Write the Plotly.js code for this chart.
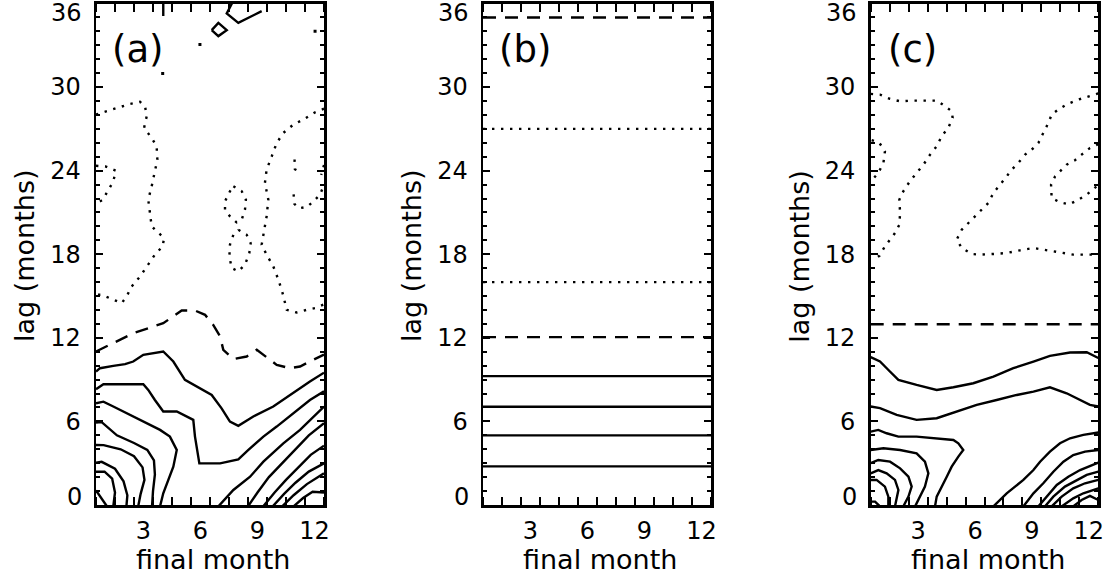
<!DOCTYPE html>
<html>
<head>
<meta charset="utf-8">
<script src="https://cdn.plot.ly/plotly-3.0.1.min.js"></script>
<style>html,body{margin:0;padding:0;background:#fff}#chart{width:1112px;height:577px}</style>
</head>
<body>
<div id="chart"></div>
<script>
// ---------------- DATA ----------------
const xTickVals = [3, 6, 9, 12];
const yTickVals = [6, 12, 18, 24, 30];
const panelLabels = ['(a)', '(b)', '(c)'];
const xTitle = 'final month';
const yTitle = 'lag (months)';

// panel (a) : solid contours
const a_solid_1 = [[0.50,9.58],[0.71,9.82],[1.41,9.99],[2.03,10.11],[2.46,10.30],[2.99,10.78],[4.04,11.02],[4.57,10.30],[5.18,8.98],[5.97,8.38],[6.59,7.90],[7.11,6.94],[7.55,5.99],[7.99,5.68],[8.78,6.35],[9.83,7.07],[10.71,7.90],[11.76,8.86],[12.50,9.50]];
const a_solid_2 = [[0.50,8.31],[0.89,8.67],[2.99,8.67],[3.25,8.26],[3.60,7.54],[4.04,6.71],[4.75,6.71],[5.62,6.11],[5.71,4.91],[5.94,2.99],[7.03,2.99],[7.99,3.28],[8.52,3.95],[9.31,4.91],[10.01,5.63],[10.89,6.59],[11.76,7.54],[12.50,8.16]];
const a_solid_3 = [[0.50,7.30],[0.89,7.42],[1.41,7.07],[2.46,6.35],[3.17,5.87],[3.87,5.39],[4.39,4.91],[4.75,3.95],[4.57,2.75],[4.31,1.80],[4.04,0.84],[3.87,-0.1]];
const a_solid_4 = [[0.50,5.92],[0.80,5.95],[1.60,5.00],[2.50,4.45],[3.20,3.95],[3.55,3.20],[3.60,2.20],[3.50,1.00],[3.45,-0.1]];
const a_solid_5 = [[0.50,4.31],[0.90,4.30],[1.80,4.00],[2.50,3.50],[2.95,2.70],[3.05,1.80],[2.85,0.80],[2.72,-0.1]];
const a_solid_6 = [[0.50,3.04],[0.80,3.10],[1.50,2.60],[1.95,1.70],[2.15,0.70],[2.10,-0.1]];
const a_solid_7 = [[0.50,2.39],[0.95,2.39],[1.35,1.90],[1.50,0.90],[1.41,-0.1]];
const a_solid_8 = [[0.50,1.05],[1.08,-0.1]];
const a_solid_r1 = [[6.94,-0.1],[7.73,1.08],[8.61,2.03],[9.31,3.11],[10.36,4.43],[11.24,5.39],[12.50,7.06]];
const a_solid_r2 = [[8.50,-0.1],[9.00,0.90],[9.60,2.00],[10.30,3.00],[11.00,4.00],[11.70,5.00],[12.50,5.87]];
const a_solid_r3 = [[9.30,-0.1],[9.90,0.90],[10.50,1.80],[11.20,2.80],[11.80,3.60],[12.50,4.26]];
const a_solid_r4 = [[9.80,-0.1],[10.40,0.80],[11.00,1.60],[11.70,2.40],[12.50,2.99]];
const a_solid_r5 = [[10.30,-0.1],[10.90,0.70],[11.60,1.50],[12.50,2.27]];
const a_solid_r6 = [[10.90,-0.1],[11.40,0.50],[11.90,0.95],[12.50,0.90]];
const a_solid_top1 = [[6.59,34.09],[6.94,34.61],[7.38,34.09],[6.94,33.66],[6.59,34.09]];
const a_solid_top2 = [[7.69,36.1],[7.38,35.28],[7.99,34.61],[8.61,35.04],[9.22,35.45]];
const a_solid_top3 = [[4.04,36.1],[4.04,35.1]];
// panel (a) : dashed contour
const a_dashed_1 = [[0.50,11.02],[1.24,11.50],[2.46,12.33],[4.04,13.05],[5.01,13.96],[5.71,13.96],[6.24,13.65],[6.67,12.93],[7.03,12.10],[7.20,11.14],[7.73,10.47],[8.43,10.66],[8.96,11.14],[9.48,10.61],[10.01,10.06],[10.71,9.82],[11.24,9.94],[11.85,10.37],[12.50,10.80]];
// panel (a) : dotted contours
const a_dotted_1 = [[0.50,28.03],[1.41,28.39],[2.29,28.79],[2.82,28.94],[3.08,28.63],[3.17,27.91],[3.03,27.07],[3.43,26.35],[3.69,25.75],[3.73,24.79],[3.60,23.84],[3.43,22.88],[3.25,21.92],[3.34,20.96],[3.43,20.00],[4.08,19.16],[4.01,18.57],[3.60,17.97],[3.17,17.13],[2.82,16.41],[2.38,15.69],[2.11,14.97],[1.85,14.49],[1.24,14.85],[0.80,15.09],[0.50,15.09]];
const a_dotted_2 = [[0.50,24.35],[1.00,24.30],[1.55,24.00],[1.40,23.20],[1.10,22.50],[0.85,21.90],[0.60,21.70]];
const a_dotted_3 = [[12.50,28.45],[12.03,28.19],[11.41,27.67],[10.89,27.31],[10.36,26.71],[10.01,25.99],[9.75,25.03],[9.48,24.07],[9.39,23.12],[9.57,21.92],[9.48,20.72],[9.31,19.52],[9.22,18.69],[9.48,17.97],[9.83,17.13],[10.10,16.17],[10.32,15.21],[10.54,14.01],[11.06,13.82],[11.59,14.01],[12.03,14.13],[12.50,14.40]];
const a_dotted_4 = [[7.73,22.88],[8.17,22.52],[8.39,21.92],[8.34,21.20],[8.17,20.48],[7.90,20.29],[7.55,20.72],[7.29,21.20],[7.29,21.80],[7.55,22.52],[7.73,22.88]];
const a_dotted_5 = [[7.99,19.76],[8.43,19.40],[8.64,18.80],[8.57,18.09],[8.34,17.25],[7.99,16.77],[7.64,17.01],[7.52,17.85],[7.55,18.69],[7.73,19.40],[7.99,19.76]];
const a_dotted_6 = [[10.95,24.80],[10.97,24.10],[11.20,23.95]];
const a_dotted_7 = [[10.90,22.30],[10.95,21.60],[11.20,21.30],[11.60,21.40],[11.95,21.80],[12.30,22.30],[12.50,23.00]];
const a_dotted_8 = [[12.50,24.40],[12.35,23.70]];
const a_dots_x = [5.97, 4.01, 12.03];
const a_dots_y = [33.06, 30.97, 34.00];

// panel (b) : horizontal contour levels
const b_xExtent = [0.5, 12.5];
const b_solidLevels = [2.77, 5.00, 7.05, 9.25];
const b_dashedLevels = [12.05, 35.0];
const b_dottedLevels = [16.0, 27.0];

// panel (c) : solid contours
const c_solid_1 = [[0.50,10.61],[0.99,10.30],[1.50,9.60],[1.96,8.98],[2.92,8.62],[3.98,8.26],[4.86,8.45],[5.91,8.74],[6.97,9.22],[8.02,9.82],[9.08,10.30],[9.95,10.71],[11.01,10.95],[11.89,10.97],[12.50,10.55]];
const c_solid_2 = [[0.50,7.07],[0.99,6.95],[1.87,6.47],[2.92,6.11],[3.98,6.23],[5.03,6.71],[6.09,7.19],[7.14,7.54],[8.20,7.90],[9.08,8.14],[9.95,8.45],[10.83,8.02],[11.53,7.54],[12.06,7.19],[12.50,7.07]];
const c_solid_3 = [[0.50,5.27],[0.90,5.39],[1.34,5.15],[1.96,4.91],[2.92,4.91],[3.98,4.79],[4.86,4.67],[5.12,4.43],[5.38,3.95],[5.12,3.47],[4.77,2.75],[4.51,2.03],[4.24,1.32],[3.98,0.60],[3.89,-0.1]];
const c_solid_4 = [[0.50,3.95],[1.17,4.07],[2.05,3.95],[2.92,3.71],[3.36,3.11],[3.54,2.27],[3.36,1.32],[3.10,0.60],[2.84,-0.1]];
const c_solid_5 = [[0.50,3.00],[0.90,3.23],[1.52,3.11],[2.05,2.63],[2.49,2.03],[2.66,1.32],[2.49,0.60],[2.22,-0.1]];
const c_solid_6 = [[0.50,2.27],[0.90,2.51],[1.34,2.27],[1.78,1.80],[1.96,1.08],[1.87,0.36],[1.78,-0.1]];
const c_solid_7 = [[0.50,1.80],[0.81,1.80],[1.25,1.32],[1.43,0.60],[1.43,-0.1]];
const c_solid_8 = [[0.50,0.24],[0.73,0.24],[0.99,-0.1]];
const c_solid_r1 = [[6.97,-0.1],[7.67,0.84],[8.55,1.80],[9.08,2.51],[9.43,3.11],[9.95,3.83],[10.48,4.43],[11.01,4.79],[11.71,5.03],[12.50,5.20]];
const c_solid_r2 = [[8.55,-0.1],[9.08,0.84],[9.60,1.56],[10.13,2.39],[10.66,3.11],[11.18,3.59],[11.80,3.83],[12.50,3.95]];
const c_solid_r3 = [[9.34,-0.1],[9.78,0.60],[10.31,1.44],[10.92,2.03],[11.54,2.51],[12.50,3.04]];
const c_solid_r4 = [[9.69,-0.1],[10.13,0.60],[10.74,1.32],[11.36,1.80],[11.89,2.16],[12.50,2.39]];
const c_solid_r5 = [[10.04,-0.1],[10.57,0.60],[11.18,1.20],[11.80,1.56],[12.50,1.80]];
const c_solid_r6 = [[10.57,-0.1],[11.18,0.48],[11.71,0.84],[12.50,1.20]];
const c_solid_r7 = [[11.18,-0.1],[11.62,0.36],[12.06,0.65],[12.50,0.36]];
// panel (c) : dashed contour
const c_dashed_1 = [[0.5,12.98],[12.5,12.98]];
// panel (c) : dotted contours
const c_dotted_1 = [[0.50,29.51],[0.99,29.46],[1.52,29.15],[2.05,28.98],[2.75,29.03],[3.98,29.03],[4.42,28.63],[4.77,28.27],[4.82,27.79],[4.59,27.07],[4.24,26.47],[3.98,25.75],[3.63,25.15],[3.28,24.43],[2.92,23.84],[2.57,23.24],[2.22,22.52],[2.01,21.92],[2.05,20.96],[2.01,20.12],[1.78,19.52],[1.52,19.04],[1.25,18.57],[0.96,17.89],[0.64,17.61]];
const c_dotted_2 = [[0.55,26.20],[0.96,25.99],[1.25,25.39],[1.17,24.55],[0.90,23.84],[0.62,23.40]];
const c_dotted_3 = [[12.50,29.55],[11.98,29.34],[11.45,29.10],[10.83,28.75],[10.39,28.39],[10.04,28.03],[9.87,27.43],[9.60,26.71],[9.34,25.99],[8.99,25.51],[8.64,25.15],[8.28,24.55],[7.93,24.07],[7.67,23.59],[7.32,22.99],[6.97,22.40],[6.70,21.68],[6.35,21.20],[6.00,20.72],[5.65,20.24],[5.30,19.76],[5.03,19.04],[5.30,18.45],[5.82,18.02],[6.26,17.97],[6.97,18.02],[7.67,18.09],[8.37,18.28],[9.08,18.45],[9.60,18.33],[10.13,18.21],[10.66,18.09],[11.18,17.97],[11.80,17.97],[12.50,17.97]];
const c_dotted_4 = [[12.50,25.90],[12.06,25.63],[11.62,25.15],[11.27,24.75],[10.83,24.43],[10.57,24.07],[10.22,23.59],[10.01,22.99],[10.04,22.04],[10.48,21.73],[10.97,21.58],[11.45,21.92],[11.89,22.28],[12.50,22.98]];

// ---------------- STYLE / LAYOUT ----------------
const W = 1112, H = 577;
const FONT = 'DejaVu Sans';
const LW = 2.4;
const SOLID = 'solid', DASH = '13px,9px', DOT = '2.4px,6.6px';
const panelLeft = [96, 483, 870.7];
const panelRight = [324, 711, 1098.3];
const plotTop = 3.5, plotBottom = 505;

const panels = [
  {solid: [a_solid_1,a_solid_2,a_solid_3,a_solid_4,a_solid_5,a_solid_6,a_solid_7,a_solid_8,a_solid_r1,a_solid_r2,a_solid_r3,a_solid_r4,a_solid_r5,a_solid_r6,a_solid_top1,a_solid_top2,a_solid_top3],
   dashed: [a_dashed_1],
   dotted: [a_dotted_1,a_dotted_2,a_dotted_3,a_dotted_4,a_dotted_5,a_dotted_6,a_dotted_7,a_dotted_8]},
  {solid: b_solidLevels.map(v => b_xExtent.map(x => [x, v])),
   dashed: b_dashedLevels.map(v => b_xExtent.map(x => [x, v])),
   dotted: b_dottedLevels.map(v => b_xExtent.map(x => [x, v]))},
  {solid: [c_solid_1,c_solid_2,c_solid_3,c_solid_4,c_solid_5,c_solid_6,c_solid_7,c_solid_8,c_solid_r1,c_solid_r2,c_solid_r3,c_solid_r4,c_solid_r5,c_solid_r6,c_solid_r7],
   dashed: [c_dashed_1],
   dotted: [c_dotted_1,c_dotted_2,c_dotted_3,c_dotted_4]}
];

const traces = [];
panels.forEach((p, i) => {
  const xa = 'x' + (i ? i + 1 : ''), ya = 'y' + (i ? i + 1 : '');
  [[p.solid, SOLID], [p.dashed, DASH], [p.dotted, DOT]].forEach(([list, dash]) => {
    list.forEach(pts => traces.push({
      type: 'scatter', mode: 'lines', xaxis: xa, yaxis: ya,
      x: pts.map(q => q[0]), y: pts.map(q => q[1]),
      line: {color: '#000', width: LW, dash: dash},
      hoverinfo: 'skip', showlegend: false
    }));
  });
});
traces.push({type: 'scatter', mode: 'markers', xaxis: 'x', yaxis: 'y', x: a_dots_x, y: a_dots_y,
  marker: {symbol: 'square', size: 3, color: '#000'}, hoverinfo: 'skip', showlegend: false});

const layout = {
  width: W, height: H,
  margin: {l: 0, r: 0, t: 0, b: 0, pad: 0},
  paper_bgcolor: '#fff', plot_bgcolor: '#fff',
  showlegend: false,
  font: {family: FONT, color: '#000'},
  annotations: []
};
const tickFont = {family: FONT, size: 24, color: '#000'};
const titleFont = {family: FONT, size: 27, color: '#000'};
panels.forEach((p, i) => {
  const k = i ? i + 1 : '';
  layout['xaxis' + k] = {
    domain: [panelLeft[i] / W, panelRight[i] / W], anchor: 'y' + k,
    range: [0.5, 12.5], tickvals: xTickVals, ticks: '',
    showline: true, linewidth: 2.5, linecolor: '#000', mirror: 'allticks',
    showgrid: false, zeroline: false, tickfont: tickFont, ticklabelstandoff: 3,
    minor: {ticks: 'inside', ticklen: 8, tickwidth: 2, tickcolor: '#000', tick0: 1.5, dtick: 1, showgrid: false},
    fixedrange: true, automargin: false
  };
  layout['yaxis' + k] = {
    domain: [1 - plotBottom / H, 1 - plotTop / H], anchor: 'x' + k,
    range: [0, 36], tickvals: yTickVals, ticks: 'inside', ticklen: 7, tickwidth: 2, tickcolor: '#000',
    showline: true, linewidth: 2.5, linecolor: '#000', mirror: 'allticks',
    showgrid: false, zeroline: false, tickfont: tickFont, ticklabelstandoff: 8,
    minor: {ticks: 'inside', ticklen: 4, tickwidth: 2, tickcolor: '#000', tick0: 0, dtick: 1, showgrid: false},
    fixedrange: true, automargin: false
  };
  const L = panelLeft[i], R = panelRight[i];
  // end tick labels (drawn inward as in the reference)
  layout.annotations.push({xref: 'paper', yref: 'y' + k, x: (L - 12) / W, y: 0.55, text: '0',
    xanchor: 'right', yanchor: 'middle', showarrow: false, font: tickFont});
  layout.annotations.push({xref: 'paper', yref: 'y' + k, x: (L - 12) / W, y: 35.35, text: '36',
    xanchor: 'right', yanchor: 'middle', showarrow: false, font: tickFont});
  // axis titles
  layout.annotations.push({xref: 'paper', yref: 'paper', x: ((L + R) / 2 + 3) / W, y: 1 - 559 / H, text: xTitle,
    xanchor: 'center', yanchor: 'middle', showarrow: false, font: titleFont});
  layout.annotations.push({xref: 'paper', yref: 'paper', x: (L - 72) / W, y: 1 - 256 / H, text: yTitle,
    textangle: -90, xanchor: 'center', yanchor: 'middle', showarrow: false, font: titleFont});
  // panel label
  layout.annotations.push({xref: 'x' + k, yref: 'y' + k, x: 2.7, y: 32.7, text: panelLabels[i],
    xanchor: 'center', yanchor: 'middle', showarrow: false, font: {family: FONT, size: 37, color: '#000'}});
});

Plotly.newPlot('chart', traces, layout, {staticPlot: true, displayModeBar: false});
</script>
</body>
</html>
